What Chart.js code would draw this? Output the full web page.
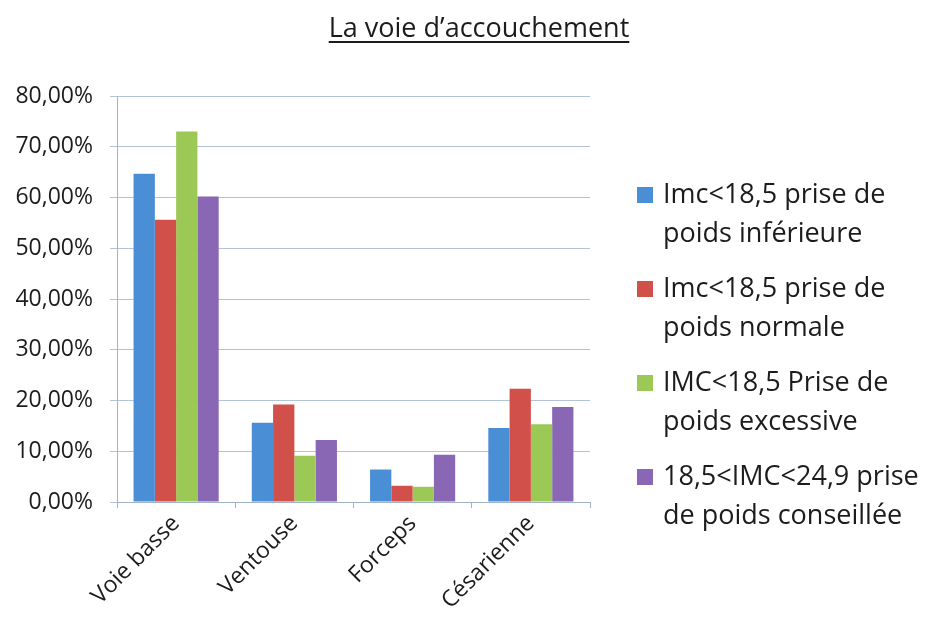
<!DOCTYPE html>
<html>
<head>
<meta charset="utf-8">
<script src="https://cdn.jsdelivr.net/npm/chart.js@4.4.0/dist/chart.umd.min.js"></script>
<style>
  html, body { margin: 0; padding: 0; background: #fff; }
  #wrap { width: 938px; height: 619px; }
</style>
</head>
<body>
<div id="wrap"><canvas id="myChart" width="938" height="619"></canvas></div>
<script>
const titre = "La voie d\u2019accouchement";
const categories = ["Voie basse", "Ventouse", "Forceps", "Césarienne"];
const series = [
  ["Imc<18,5 prise de", "poids inférieure"],
  ["Imc<18,5 prise de", "poids normale"],
  ["IMC<18,5 Prise de", "poids excessive"],
  ["18,5<IMC<24,9 prise", "de poids conseillée"]
];
const valInferieure = [64.7, 15.6, 6.4, 14.6];
const valNormale = [55.6, 19.2, 3.2, 22.3];
const valExcessive = [73.0, 9.1, 3.0, 15.3];
const valConseillee = [60.2, 12.2, 9.3, 18.7];
const couleurs = ["#4a8fd6", "#d2504a", "#9cc956", "#8a67b4"];

const FONT = "'Open Sans', Lato, sans-serif";

// titre souligné + légende sur deux lignes
const decor = {
  id: "decor",
  afterDraw(chart) {
    const c = chart.ctx;
    c.save();
    c.fillStyle = "#1c1c1c";
    c.font = "27px " + FONT;
    c.textAlign = "center";
    c.textBaseline = "alphabetic";
    c.fillText(titre, 479, 37);
    const w = c.measureText(titre).width;
    c.fillRect(479 - w / 2, 41, w, 2);

    c.font = "27px " + FONT;
    c.textAlign = "left";
    c.textBaseline = "middle";
    chart.data.datasets.forEach((ds, i) => {
      const y = 195 + i * 94;
      c.fillStyle = ds.backgroundColor;
      c.fillRect(637, y - 8, 16, 16);
      c.fillStyle = "#1c1c1c";
      ds.lignes.forEach((t, j) => c.fillText(t, 663, y + j * 39));
    });
    c.restore();
  }
};

new Chart(document.getElementById("myChart").getContext("2d"), {
  type: "bar",
  data: {
    labels: categories,
    datasets: [valInferieure, valNormale, valExcessive, valConseillee].map((d, i) => ({
      label: series[i].join(" "),
      lignes: series[i],
      data: d,
      backgroundColor: couleurs[i],
      categoryPercentage: 0.72,
      barPercentage: 1.0
    }))
  },
  options: {
    responsive: false,
    animation: false,
    layout: { padding: { left: 0, right: 348, top: 96, bottom: 0 } },
    plugins: {
      legend: { display: false },
      tooltip: { enabled: false }
    },
    scales: {
      x: {
        grid: { display: true, drawOnChartArea: false, offset: true, color: "#9fb4c8", tickLength: 6 },
        border: { color: "#9fb4c8" },
        ticks: {
          font: { family: FONT, size: 23 },
          color: "#1c1c1c",
          minRotation: 45,
          maxRotation: 45,
          padding: 2
        },
        afterFit(s) { s.height = 117; }
      },
      y: {
        min: 0,
        max: 80,
        grid: { color: "#b3c4d6", tickLength: 7 },
        border: { color: "#9fb4c8" },
        ticks: {
          stepSize: 10,
          font: { family: FONT, size: 23 },
          color: "#1c1c1c",
          padding: 17,
          callback: v => v.toFixed(2).replace(".", ",") + "%"
        },
        afterFit(s) { s.width = 117; }
      }
    }
  },
  plugins: [decor]
});
</script>
</body>
</html>
